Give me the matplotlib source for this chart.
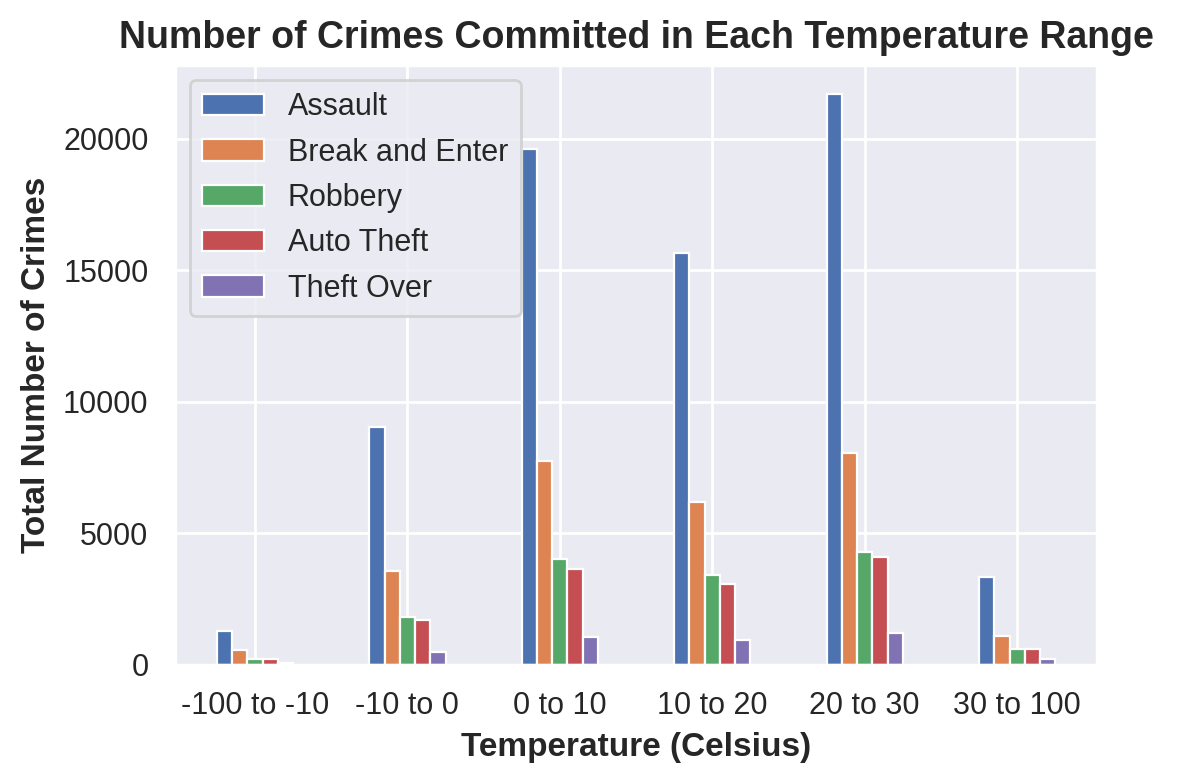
import matplotlib
matplotlib.use("Agg")
import matplotlib.pyplot as plt
import seaborn as sns
import numpy as np

sns.set_theme()
plt.rcParams['font.family'] = ['DejaVu Sans']
plt.rcParams['font.sans-serif'] = ['Arial', 'Liberation Sans', 'DejaVu Sans']
plt.rcParams['font.family'] = ['Liberation Sans', 'DejaVu Sans']

categories = ["-100 to -10", "-10 to 0", "0 to 10", "10 to 20", "20 to 30", "30 to 100"]
assault = [1300, 9050, 19600, 15650, 21700, 3350]
break_enter = [550, 3550, 7750, 6200, 8050, 1100]
robbery = [230, 1800, 4000, 3400, 4300, 600]
auto_theft = [230, 1700, 3650, 3050, 4100, 600]
theft_over = [60, 500, 1050, 950, 1200, 200]
series = [("Assault", assault), ("Break and Enter", break_enter), ("Robbery", robbery),
          ("Auto Theft", auto_theft), ("Theft Over", theft_over)]

fig, ax = plt.subplots(figsize=(5.95, 3.91), dpi=200)
fig.subplots_adjust(left=0.147, right=0.922, top=0.917, bottom=0.15)
x = np.arange(len(categories))
w = 0.1
colors = sns.color_palette("deep")
for i, (name, vals) in enumerate(series):
    ax.bar(x + (i - 2) * w, vals, w, label=name, color=colors[i], edgecolor='white', linewidth=0.8)
ax.set_xticks(x)
ax.set_xticklabels(categories, fontsize=11)
ax.tick_params(axis='y', labelsize=11)
ax.set_xlim(-0.525, 5.525)
ax.set_ylim(0, 22800)
ax.set_title("Number of Crimes Committed in Each Temperature Range", fontsize=13.5, fontweight='bold')
ax.set_xlabel("Temperature (Celsius)", fontsize=12, fontweight='bold')
ax.set_ylabel("Total Number of Crimes", fontsize=12, fontweight='bold')
ax.legend(loc='upper left', fontsize=11, facecolor='#eaeaf2', framealpha=0.8)
fig.savefig("out.png", dpi=200)
